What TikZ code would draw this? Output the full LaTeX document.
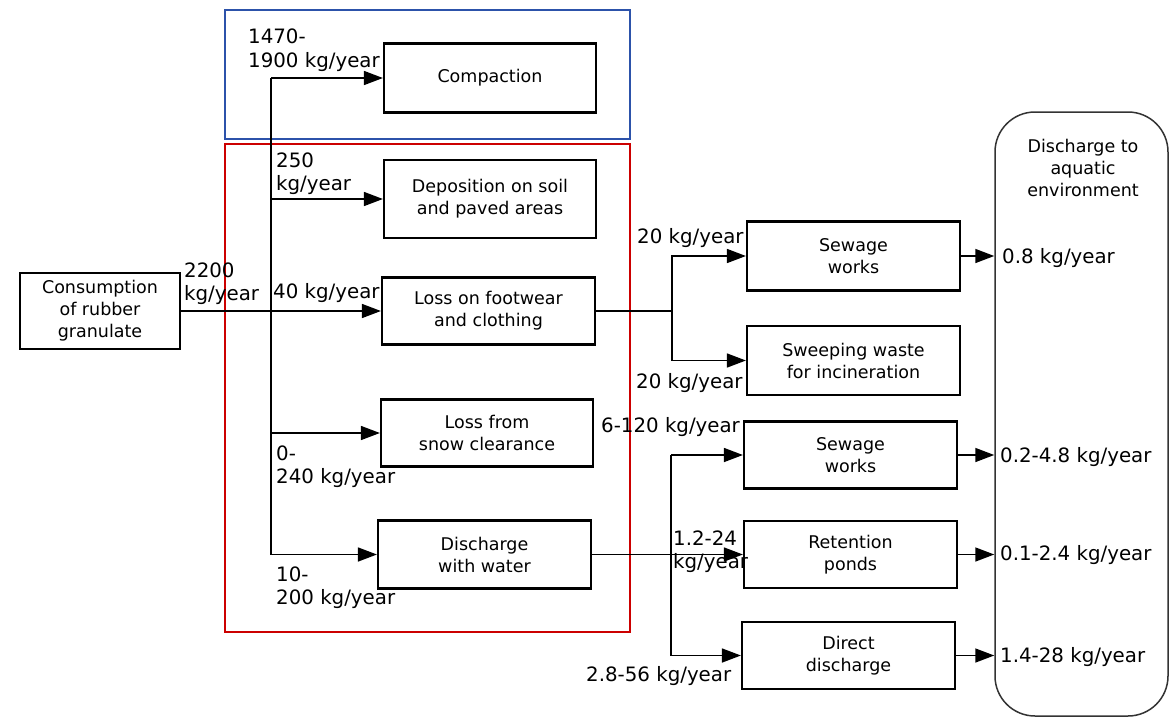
\documentclass[tikz,border=0pt]{standalone}
\usepackage{fontspec}
\setmainfont{DejaVu Sans}
\usetikzlibrary{arrows.meta}
\definecolor{frameblue}{RGB}{44,82,170}
\definecolor{framered}{RGB}{204,0,0}
\begin{document}
\begin{tikzpicture}[x=1pt,y=-1pt,
  box/.style={draw=black,line width=2.2pt,minimum width=213pt,minimum height=68pt,inner sep=0pt,align=center,font=\fontsize{17.5}{22}\selectfont},
  lbl/.style={inner sep=0pt,anchor=west,align=left,font=\fontsize{19.8}{23.5}\selectfont},
  flow/.style={line width=1.6pt,draw=black},
  arr/.style={flow,-{Triangle[length=19pt,width=14pt]}},
  frame/.style={line width=2.5pt}]
\useasboundingbox (0,0) rectangle (1176,718);
\fill[white] (0,0) rectangle (1176,718);

% grouping frames
\draw[frame,draw=frameblue] (225,10) rectangle (630,139);
\draw[frame,draw=framered] (225,144) rectangle (630,632);

% boxes
\node[box,minimum width=160pt,minimum height=76pt] (cons) at (100,311) {Consumption\\of rubber\\granulate};
\node[box,minimum width=212pt,minimum height=69pt] (comp) at (490,78) {Compaction};
\node[box,minimum width=212pt,minimum height=78pt] (depo) at (490,199) {Deposition on soil\\and paved areas};
\node[box,minimum height=67pt] (foot) at (488.5,311) {Loss on footwear\\and clothing};
\node[box,minimum width=212pt,minimum height=67pt] (snow) at (487,433) {Loss from\\snow clearance};
\node[box] (dwat) at (484.5,554.5) {Discharge\\with water};
\node[box,minimum height=69pt] (sew1) at (853.5,256) {Sewage\\works};
\node[box,minimum height=69pt] (swe) at (853.5,360.5) {Sweeping waste\\for incineration};
\node[box,minimum height=67pt] (sew2) at (850.5,455) {Sewage\\works};
\node[box,minimum height=67pt] (ret) at (850.5,554.5) {Retention\\ponds};
\node[box,minimum height=67pt] (dir) at (848.5,655.5) {Direct\\discharge};
\node[draw=black!80,line width=1.5pt,rounded corners=40pt,minimum width=173pt,minimum height=604pt,inner sep=0pt] (aqua) at (1081.5,414) {};
\node[inner sep=0pt,align=center,font=\fontsize{17.5}{22}\selectfont] (aquat) at (1083,168) {Discharge to\\aquatic\\environment};

% trunk from consumption
\coordinate (tr) at (271,0);
\draw[flow] (tr |- comp.west) -- (tr |- dwat.west);
\draw[arr] (cons.east) -- (foot.west);
\draw[arr] (tr |- comp.west) -- (comp.west);
\draw[arr] (tr |- depo.west) -- (depo.west);
\draw[arr] (tr |- snow.west) -- (snow.west);
\draw[arr] (tr |- dwat.west) -- (dwat.west);

% footwear split
\coordinate (b1) at (672,311);
\draw[flow] (foot.east) -- (b1);
\draw[arr] (b1) |- (sew1.west);
\draw[arr] (b1) |- (swe.west);

% water split
\coordinate (b2) at (671,554.5);
\draw[arr] (dwat.east) -- (ret.west);
\draw[flow] (b2 |- sew2.west) -- (b2 |- dir.west);
\draw[arr] (b2 |- sew2.west) -- (sew2.west);
\draw[arr] (b2 |- dir.west) -- (dir.west);

% outputs
\draw[arr] (sew1.east) -- (sew1.east -| aqua.west);
\draw[arr] (sew2.east) -- (sew2.east -| aqua.west);
\draw[arr] (ret.east) -- (ret.east -| aqua.west);
\draw[arr] (dir.east) -- (dir.east -| aqua.west);

% labels
\node[lbl] (l1) at (248,50) {1470-\\1900 kg/year};
\node[lbl] (l2) at (276,173.5) {250\\kg/year};
\node[lbl] (l3) at (184,283.5) {2200\\kg/year};
\node[lbl] (l4) at (273,293) {40 kg/year};
\node[lbl] (l5) at (276,466.5) {0-\\240 kg/year};
\node[lbl] (l6) at (276,587.5) {10-\\200 kg/year};
\node[lbl] (l7) at (637,238) {20 kg/year};
\node[lbl] (l8) at (636,383) {20 kg/year};
\node[lbl] (l9) at (601,427) {6-120 kg/year};
\node[lbl] (l10) at (673,551.5) {1.2-24\\kg/year};
\node[lbl] (l11) at (586,676) {2.8-56 kg/year};
\node[lbl] (l12) at (1002,258) {0.8 kg/year};
\node[lbl] (l13) at (1000,457) {0.2-4.8 kg/year};
\node[lbl] (l14) at (1000,555) {0.1-2.4 kg/year};
\node[lbl] (l15) at (1000,657) {1.4-28 kg/year};
\end{tikzpicture}
\end{document}
